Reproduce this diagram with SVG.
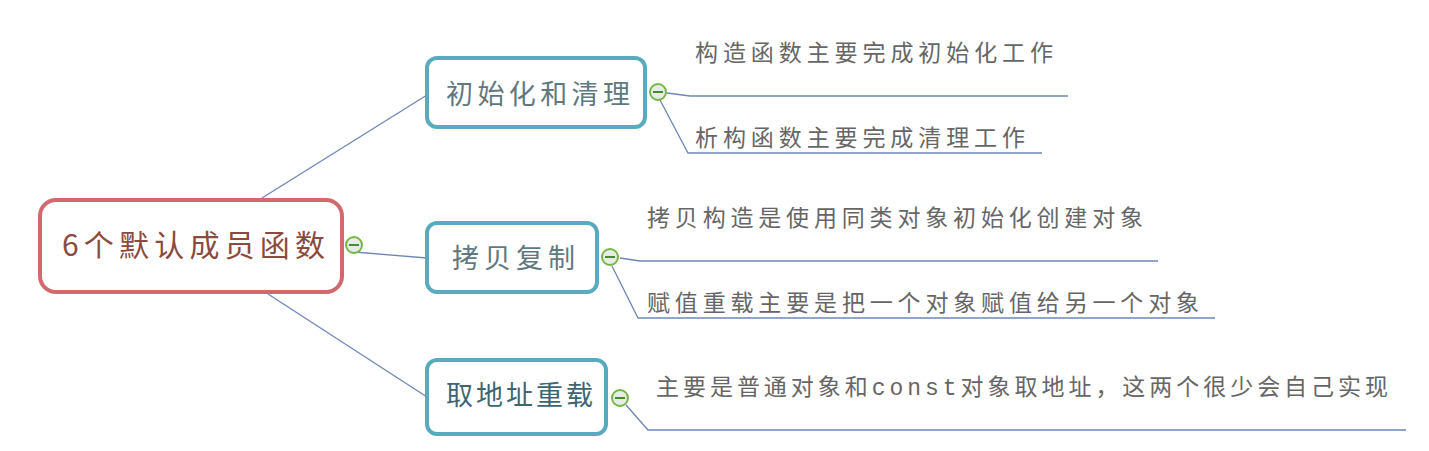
<svg xmlns="http://www.w3.org/2000/svg" width="1429" height="451" viewBox="0 0 1429 451">
<style>
.root{fill:#fff;stroke:#d06a6e;stroke-width:4}
.node{fill:#fff;stroke:#5aaabf;stroke-width:4}
.t{font-family:"Noto Sans CJK SC","Noto Sans",sans-serif;fill:#666;font-size:23px}
.nt{font-family:"Noto Sans CJK SC","Noto Sans",sans-serif;fill:#607880;font-size:27px}
.line{fill:none;stroke:#6f86b5;stroke-width:1.3}
.tog circle{fill:#e8ece8;stroke:#74b843;stroke-width:2}
.tog line{stroke:#4a8a2a;stroke-width:2}
</style>
<rect width="1429" height="451" fill="#fff"/>
<g id="connectors">
<path class="line" d="M262 198 L427 95"/>
<path class="line" d="M354 252 L427 258"/>
<path class="line" d="M268 294 L427 397"/>
<path class="line" d="M667 93 L690 96 L1068 96"/>
<path class="line" d="M660 100 L688 153 L1042 153"/>
<path class="line" d="M620 258 L640 261 L1158 261"/>
<path class="line" d="M612 266 L638 318 L1215 318"/>
<path class="line" d="M626 405 L648 430 L1406 430"/>
</g>
<g id="root">
<rect class="root" x="40" y="200" width="302" height="92" rx="16"/>
<text x="62" y="256" font-family="Noto Sans CJK SC,sans-serif" font-size="30" fill="#8a4a3e" textLength="263" lengthAdjust="spacing">6个默认成员函数</text>
<g class="tog"><circle cx="354" cy="245" r="8"/><line x1="349" y1="245" x2="359" y2="245"/></g>
</g>
<g id="n1">
<rect class="node" x="427" y="58" width="218" height="69" rx="10"/>
<text class="nt" x="446" y="104" textLength="184" lengthAdjust="spacing">初始化和清理</text>
<g class="tog"><circle cx="658" cy="92" r="8"/><line x1="653" y1="92" x2="663" y2="92"/></g>
</g>
<g id="n1a"><text class="t" x="695" y="61" textLength="358" lengthAdjust="spacing">构造函数主要完成初始化工作</text></g>
<g id="n1b"><text class="t" x="695" y="146" textLength="330" lengthAdjust="spacing">析构函数主要完成清理工作</text></g>
<g id="n2">
<rect class="node" x="427" y="223" width="170" height="69" rx="10"/>
<text class="nt" x="452" y="268" textLength="123" lengthAdjust="spacing">拷贝复制</text>
<g class="tog"><circle cx="610" cy="257" r="8"/><line x1="605" y1="257" x2="615" y2="257"/></g>
</g>
<g id="n2a"><text class="t" x="647" y="226" textLength="496" lengthAdjust="spacing">拷贝构造是使用同类对象初始化创建对象</text></g>
<g id="n2b"><text class="t" x="647" y="311" textLength="552" lengthAdjust="spacing">赋值重载主要是把一个对象赋值给另一个对象</text></g>
<g id="n3">
<rect class="node" x="427" y="360" width="179" height="74" rx="10"/>
<text class="nt" x="446" y="405" style="fill:#3d6670" textLength="147" lengthAdjust="spacing">取地址重载</text>
<g class="tog"><circle cx="620" cy="398" r="8"/><line x1="615" y1="398" x2="625" y2="398"/></g>
</g>
<g id="n3a"><text class="t" x="656" y="395" textLength="732" lengthAdjust="spacing">主要是普通对象和<tspan font-family="Liberation Mono,monospace">const</tspan>对象取地址，这两个很少会自己实现</text></g>
</svg>
